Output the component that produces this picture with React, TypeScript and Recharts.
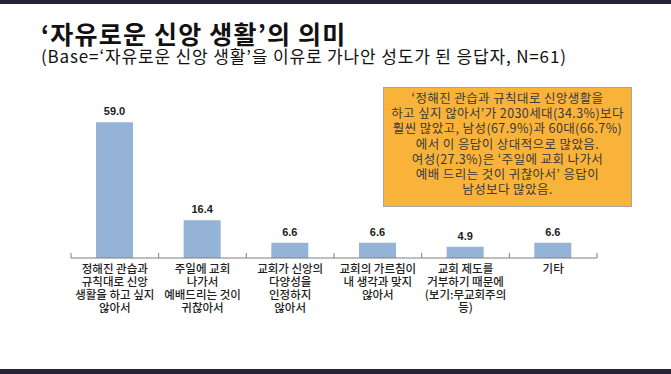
import { BarChart, Bar, XAxis, YAxis, LabelList } from 'recharts'

const categories = [
  '정해진 관습과\n규칙대로 신앙\n생활을 하고 싶지\n않아서',
  '주일에 교회\n나가서\n예배드리는 것이\n귀찮아서',
  '교회가 신앙의\n다양성을\n인정하지\n않아서',
  '교회의 가르침이\n내 생각과 맞지\n않아서',
  '교회 제도를\n거부하기 때문에\n(보기:무교회주의\n등)',
  '기타',
]
const values = [59.0, 16.4, 6.6, 6.6, 4.9, 6.6]

const title = '‘자유로운 신앙 생활’의 의미'
const subtitle = '(Base=‘자유로운 신앙 생활’을 이유로 가나안 성도가 된 응답자, N=61)'
const noteLines = [
  '‘정해진 관습과 규칙대로 신앙생활을',
  '하고 싶지 않아서’가 2030세대(34.3%)보다',
  '훨씬 많았고, 남성(67.9%)과 60대(66.7%)',
  '에서 이 응답이 상대적으로 많았음.',
  '여성(27.3%)은 ‘주일에 교회 나가서',
  '예배 드리는 것이 귀찮아서’ 응답이',
  '남성보다 많았음.',
]

const data = categories.map((name, i) => ({ name, value: values[i] }))

const W = 671
const H = 374
const margin = { top: 97, right: 74, bottom: 36, left: 71 }
const band = (W - margin.left - margin.right) / categories.length
const KR = '"Noto Sans CJK KR", "Noto Sans", sans-serif'

function CategoryTick(props: any) {
  const { x, y, payload, index } = props
  const lines = String(payload.value).split('\n')
  return (
    <g>
      <line x1={x - band / 2} y1={y - 5} x2={x - band / 2} y2={y} stroke="#7f7f7f" />
      {index === categories.length - 1 && (
        <line x1={x + band / 2} y1={y - 5} x2={x + band / 2} y2={y} stroke="#7f7f7f" />
      )}
      <text textAnchor="middle" fontFamily={KR} fontSize={11.5} fontWeight={500} fill="#1e1e1e">
        {lines.map((l, i) => (
          <tspan key={i} x={x} y={y + 15 + i * 13}>
            {l}
          </tspan>
        ))}
      </text>
    </g>
  )
}

export default function App() {
  return (
    <div style={{ position: 'absolute', left: 0, top: 0, width: W, height: H, background: '#fff', overflow: 'hidden' }}>
      <div style={{ position: 'absolute', left: 0, top: 0, width: W, height: 4, background: '#25223a' }} />
      <div style={{ position: 'absolute', left: 0, top: 369, width: W, height: 5, background: '#25223a' }} />
      <div
        style={{
          position: 'absolute', left: 41, top: 20, fontFamily: KR, fontSize: 25, fontWeight: 700,
          letterSpacing: 1.2, color: '#111', lineHeight: '27px', whiteSpace: 'nowrap',
        }}
      >
        {title}
      </div>
      <div
        style={{
          position: 'absolute', left: 41, top: 47, fontFamily: KR, fontSize: 17,
          letterSpacing: 0.85, color: '#111', lineHeight: '18px', whiteSpace: 'nowrap',
        }}
      >
        {subtitle}
      </div>
      <BarChart width={W} height={H} data={data} margin={margin} style={{ position: 'absolute', left: 0, top: 0 }}>
        <YAxis hide domain={[0, 70]} />
        <XAxis
          dataKey="name"
          height={80}
          interval={0}
          tickSize={0}
          tickMargin={0}
          tickLine={false}
          axisLine={{ stroke: '#7f7f7f' }}
          tick={<CategoryTick />}
        />
        <Bar dataKey="value" fill="#95B3D7" barSize={37} isAnimationActive={false}>
          <LabelList
            dataKey="value"
            position="top"
            offset={7}
            formatter={(v: any) => Number(v).toFixed(1)}
            style={{ fontFamily: 'Arial, "Liberation Sans", sans-serif', fontSize: 11, fontWeight: 700, fill: '#222' }}
          />
        </Bar>
      </BarChart>
      <div
        style={{
          position: 'absolute', left: 383, top: 87, width: 247, height: 116, background: '#F9B33B',
          border: '1px solid #a6a6a6', fontFamily: KR, fontSize: 12.5, letterSpacing: 0.4, color: '#3a3a3a',
          textAlign: 'center', lineHeight: '15.2px', paddingTop: 2, boxSizing: 'content-box', whiteSpace: 'nowrap',
        }}
      >
        {noteLines.map((l, i) => (
          <div key={i}>{l}</div>
        ))}
      </div>
    </div>
  )
}
